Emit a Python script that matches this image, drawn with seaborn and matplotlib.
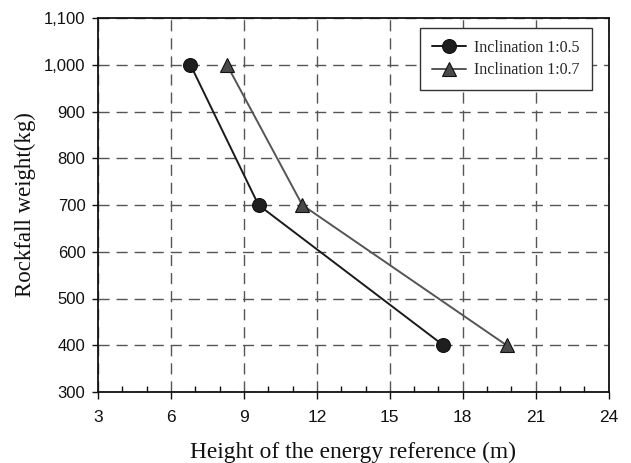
import matplotlib
matplotlib.use("Agg")
import matplotlib.pyplot as plt
from matplotlib.ticker import MultipleLocator, FuncFormatter
import seaborn as sns
import pandas as pd

# Rockfall weight vs. height of the energy reference for two slope inclinations
weights = [1000, 700, 400]
height_05 = [6.8, 9.6, 17.2]
height_07 = [8.3, 11.4, 19.8]
series_names = ["Inclination 1:0.5", "Inclination 1:0.7"]

df = pd.concat([
    pd.DataFrame({"height": height_05, "weight": weights, "series": series_names[0]}),
    pd.DataFrame({"height": height_07, "weight": weights, "series": series_names[1]}),
])

sns.set_style("ticks")
plt.rcParams["font.family"] = ["Liberation Sans", "DejaVu Sans"]
serif = ["Liberation Serif", "DejaVu Serif"]

fig = plt.figure(figsize=(6.31, 4.63), dpi=100)
ax = fig.add_axes([98 / 631, 1 - 392 / 463, (608.7 - 98) / 631, (392 - 18) / 463])

line_colors = {series_names[0]: "#1a1a1a", series_names[1]: "#555555"}
face_colors = {series_names[0]: "#1e1e1e", series_names[1]: "#4a4a4a"}
markers = {series_names[0]: "o", series_names[1]: "^"}

sns.lineplot(data=df, x="height", y="weight", hue="series", style="series",
             palette=line_colors, markers=markers, dashes=False, sort=False,
             ax=ax, linewidth=1.4, markersize=10, legend=False)

# restyle markers per series
for line, name in zip(ax.get_lines(), series_names):
    line.set_markerfacecolor(face_colors[name])
    line.set_markeredgecolor("#111111")
    line.set_markeredgewidth(0.8)
    line.set_label(name)
    line.set_zorder(3)

ax.set_xlim(3, 24)
ax.set_ylim(300, 1100)
ax.xaxis.set_major_locator(MultipleLocator(3))
ax.xaxis.set_minor_locator(MultipleLocator(1))
ax.yaxis.set_major_locator(MultipleLocator(100))
ax.yaxis.set_major_formatter(FuncFormatter(lambda v, p: f"{int(v):,}"))

ax.grid(True, which="major", linestyle=(0, (8, 5)), color="#555555", linewidth=1.0)
ax.set_axisbelow(True)

for s in ax.spines.values():
    s.set_visible(True)
    s.set_color("#111111")
    s.set_linewidth(1.3)

ax.tick_params(axis="x", which="major", direction="out", length=5, width=1, color="#111111",
               labelsize=12.5, pad=8, labelcolor="#111111")
ax.tick_params(axis="x", which="minor", direction="in", length=4, width=1, color="#111111")
ax.tick_params(axis="y", which="major", direction="out", length=4, width=1, color="#111111",
               labelsize=12, pad=5, labelcolor="#111111")

ax.set_xlabel("Height of the energy reference (m)", family=serif,
              fontsize=16.8, labelpad=12, color="#111111")
ax.set_ylabel("Rockfall weight(kg)", family=serif,
              fontsize=16.5, labelpad=6, color="#111111")

leg = ax.legend(loc="upper right", bbox_to_anchor=(0.967, 0.973), frameon=True, fancybox=False,
                prop={"family": serif, "size": 11.5},
                handlelength=2.1, borderpad=0.75, labelspacing=0.4, handletextpad=0.55,
                borderaxespad=0)
leg.get_frame().set_edgecolor("#333333")
leg.get_frame().set_linewidth(1.0)
leg.get_frame().set_alpha(1)

fig.savefig("out.png", dpi=100)
